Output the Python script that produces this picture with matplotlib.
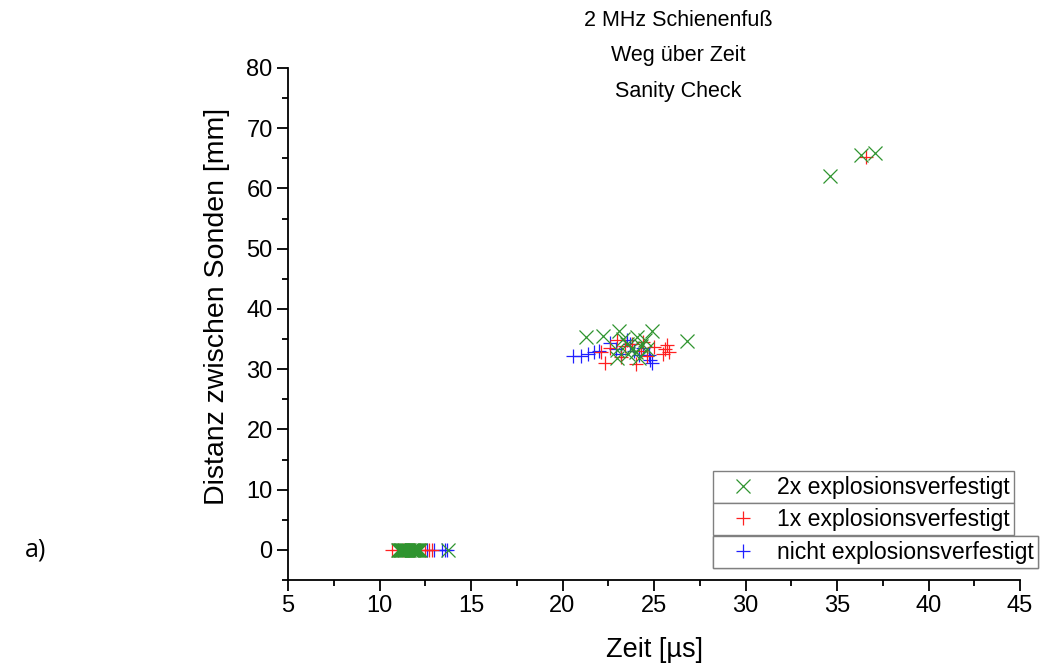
import matplotlib
matplotlib.use("Agg")
import matplotlib.pyplot as plt
from matplotlib.ticker import MultipleLocator
from matplotlib.lines import Line2D

plt.rcParams['font.family'] = ['Liberation Sans', 'DejaVu Sans']

# ---- data ----
# 2x explosionsverfestigt
g_x = [11.0, 11.05, 11.1, 11.15, 11.2, 11.25, 11.3, 11.35, 11.4, 11.45, 11.5, 11.55, 11.6, 11.7,
       11.75, 11.8, 11.85, 11.9, 11.95, 12.0, 12.05, 12.1, 12.15, 12.2, 13.75,
       21.3, 22.2, 23.1, 23.3, 23.5, 22.96, 23.6, 24.0, 24.05, 24.3, 24.5, 24.9, 23.8, 24.2, 26.8, 23.0, 24.6,
       34.6, 36.3, 37.1]
g_y = [0, 0, 0, 0, 0, 0, 0, 0, 0, 0, 0, 0, 0, 0,
       0, 0, 0, 0, 0, 0, 0, 0, 0, 0, 0,
       35.3, 35.5, 36.4, 35.0, 34.2, 31.8, 32.5, 32.8, 35.3, 33.9, 34.8, 36.3, 33.5, 31.9, 34.6, 33.2, 33.4,
       62.1, 65.6, 65.9]
# 1x explosionsverfestigt
r_x = [10.7, 11.0, 11.3, 11.6, 11.9, 12.2, 12.5, 12.7, 12.85,
       22.1, 22.3, 22.6, 23.0, 23.4, 23.8, 24.0, 24.3, 24.6, 25.0, 25.6, 25.8, 25.7, 25.5, 23.2, 24.4,
       36.6]
r_y = [0, 0, 0, 0, 0, 0, 0, 0, 0,
       32.8, 31.0, 33.5, 34.8, 33.8, 34.2, 30.9, 33.0, 32.2, 33.6, 33.4, 32.9, 34.0, 32.6, 32.0, 34.5,
       65.2]
# nicht explosionsverfestigt
b_x = [12.6, 13.0, 13.4, 13.6, 13.7,
       20.6, 21.0, 21.4, 21.7, 22.0, 22.6, 22.9, 23.2, 23.5, 23.9, 24.2, 24.7, 24.9, 24.8, 23.7, 24.4]
b_y = [0, 0, 0, 0, 0,
       32.2, 32.2, 32.6, 32.8, 33.0, 34.3, 33.3, 32.5, 34.8, 33.0, 32.3, 32.4, 31.0, 31.6, 34.2, 33.5]

labels = ["2x explosionsverfestigt", "1x explosionsverfestigt", "nicht explosionsverfestigt"]
x_ticks = [5, 10, 15, 20, 25, 30, 35, 40, 45]
y_ticks = [0, 10, 20, 30, 40, 50, 60, 70, 80]

GREEN = "#2f942f"
RED = "#ff2020"
BLUE = "#2020ff"

fig = plt.figure(figsize=(10.45, 6.66), dpi=100)
ax = fig.add_axes([288/1045, 1-580/666, (1020-288)/1045, (580-68)/666])

ax.plot(b_x, b_y, linestyle='none', marker='+', ms=10, mew=0.9, color=BLUE)
ax.plot(r_x, r_y, linestyle='none', marker='+', ms=10, mew=0.9, color=RED)
ax.plot(g_x, g_y, linestyle='none', marker='x', ms=10, mew=0.9, color=GREEN)

ax.set_xlim(5, 45)
ax.set_ylim(-5, 80)
ax.set_xticks(x_ticks)
ax.set_yticks(y_ticks)
ax.xaxis.set_minor_locator(MultipleLocator(2.5))
ax.yaxis.set_minor_locator(MultipleLocator(5))
for s in ['top', 'right']:
    ax.spines[s].set_visible(False)
for s in ['left', 'bottom']:
    ax.spines[s].set_linewidth(1.3)
ax.tick_params(which='major', direction='out', length=8, width=1.3, labelsize=17, pad=3)
ax.tick_params(which='minor', direction='out', length=4.5, width=1.3)

ax.set_xlabel("Zeit [µs]", fontsize=19.5, labelpad=14)
ax.set_ylabel("Distanz zwischen Sonden [mm]", fontsize=20.5)
ax.yaxis.set_label_coords(-58/732, 0.535)

fig.text(678/1045, 1-10/666, "2 MHz Schienenfuß\nWeg über Zeit\nSanity Check",
         ha='center', va='top', fontsize=15.5, linespacing=1.9)
fig.text(25/1045, 1-550/666, "a)", ha='left', va='center', fontsize=18,
         family=['Open Sans', 'DejaVu Sans'])

# Origin-style legend: each entry in its own box
handles = [Line2D([], [], linestyle='none', marker='x', ms=10, mew=0.9, color=GREEN),
           Line2D([], [], linestyle='none', marker='+', ms=10, mew=0.9, color=RED),
           Line2D([], [], linestyle='none', marker='+', ms=10, mew=0.9, color=BLUE)]
tops = [471, 503, 536]
for h, lab, t in zip(handles, labels, tops):
    leg = ax.legend([h], [lab], loc='upper left',
                    bbox_to_anchor=(713/1045, 1-t/666), bbox_transform=fig.transFigure,
                    frameon=True, fancybox=False, edgecolor='#808080', framealpha=1,
                    fontsize=16.6, borderpad=0.2, handlelength=2.2, handletextpad=0.37,
                    borderaxespad=0)
    leg.get_frame().set_linewidth(1.0)
    ax.add_artist(leg)

fig.savefig("out.png", dpi=100)
